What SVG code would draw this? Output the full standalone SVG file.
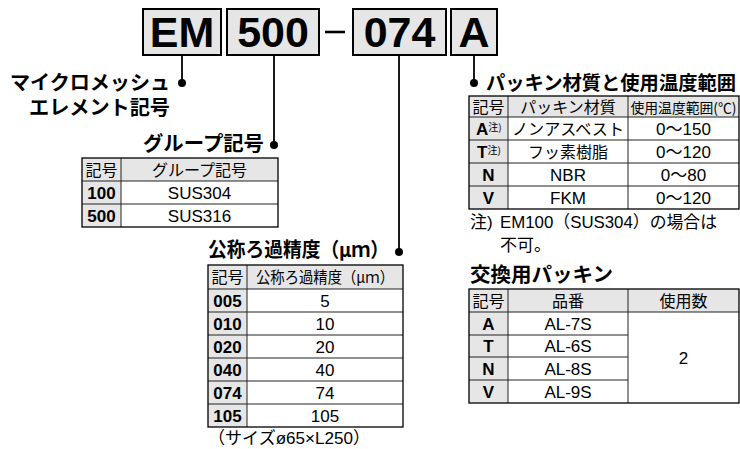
<svg xmlns="http://www.w3.org/2000/svg" width="740" height="449" viewBox="0 0 740 449">
<style>
text{font-family:'Liberation Sans','Noto Sans CJK JP',sans-serif;fill:#000}
.code{font-size:43px;font-weight:bold;text-anchor:middle}
.cbox{fill:#e6e6e6;stroke:#000;stroke-width:2}
.ttl{font-family:'Noto Sans CJK JP',sans-serif;font-size:20px;font-weight:bold}
.tj{font-family:'Noto Sans CJK JP',sans-serif;font-size:16px;text-anchor:middle}
.tl{font-size:17px;text-anchor:middle}
.tb{font-size:17px;font-weight:bold;text-anchor:middle}
.tbs{font-size:17px;font-weight:bold;text-anchor:start}
.note{font-size:17px}
.sup{font-family:'Noto Sans CJK JP',sans-serif;font-size:10px;font-weight:normal}
.hd{fill:#e6e6e6}
.grid{fill:none;stroke:#222;stroke-width:1}
.outer{fill:none;stroke:#000;stroke-width:1.3}
.conn{stroke:#000;stroke-width:1.8;fill:none}
.dot{fill:#000}
</style>

<g id="code-EM">
<rect class="cbox" x="143" y="9" width="78" height="46"/>
<text class="code" x="182" y="47">EM</text>
</g>
<g id="code-500">
<rect class="cbox" x="227" y="9" width="92" height="46"/>
<text class="code" x="273" y="47">500</text>
</g>
<g id="dash">
<line x1="325" y1="32" x2="345" y2="32" stroke="#000" stroke-width="2.6"/>
</g>
<g id="code-074">
<rect class="cbox" x="353" y="9" width="93" height="46"/>
<text class="code" x="399.5" y="47">074</text>
</g>
<g id="code-A">
<rect class="cbox" x="451" y="9" width="46" height="46"/>
<text class="code" x="474" y="47">A</text>
</g>

<g id="connectors">
<path class="conn" d="M182,55V83"/>
<circle class="dot" cx="182" cy="83" r="4"/>
<path class="conn" d="M274,55V145"/>
<circle class="dot" cx="274" cy="145" r="4"/>
<path class="conn" d="M399,55V252"/>
<circle class="dot" cx="399" cy="252" r="4"/>
<path class="conn" d="M474,55V83"/>
<circle class="dot" cx="474" cy="83" r="4"/>
</g>

<g id="label-element">
<text class="ttl" x="10" y="90" textLength="160" lengthAdjust="spacingAndGlyphs">マイクロメッシュ</text>
<text class="ttl" x="29" y="115" textLength="141" lengthAdjust="spacingAndGlyphs">エレメント記号</text>
</g>

<g id="group-table">
<text class="ttl" x="143" y="151" textLength="121" lengthAdjust="spacingAndGlyphs">グループ記号</text>
<rect class="hd" x="82" y="158" width="196" height="23"/>
<rect class="hd" x="82" y="181" width="39" height="46"/>
<path class="grid" d="M82,181H278M82,204H278M121,158V227"/>
<rect class="outer" x="82" y="158" width="196" height="69"/>
<text class="tj" x="101.5" y="175.5">記号</text>
<text class="tj" x="199.5" y="175.5">グループ記号</text>
<text class="tb" x="101.5" y="198.5">100</text>
<text class="tl" x="199.5" y="198.5">SUS304</text>
<text class="tb" x="101.5" y="221.5">500</text>
<text class="tl" x="199.5" y="221.5">SUS316</text>
</g>

<g id="filter-table">
<text class="ttl" x="208" y="257" textLength="181" lengthAdjust="spacingAndGlyphs">公称ろ過精度（μｍ）</text>
<rect class="hd" x="208" y="265" width="195" height="24"/>
<rect class="hd" x="208" y="289" width="39" height="138"/>
<path class="grid" d="M208,289H403M208,312H403M208,335H403M208,358H403M208,381H403M208,404H403M247,265V427"/>
<rect class="outer" x="208" y="265" width="195" height="162"/>
<text class="tj" x="227.5" y="283">記号</text>
<text class="tj" x="325" y="283" textLength="138" lengthAdjust="spacingAndGlyphs">公称ろ過精度（μｍ）</text>
<text class="tb" x="227.5" y="306.5">005</text>
<text class="tl" x="325" y="306.5">5</text>
<text class="tb" x="227.5" y="329.5">010</text>
<text class="tl" x="325" y="329.5">10</text>
<text class="tb" x="227.5" y="352.5">020</text>
<text class="tl" x="325" y="352.5">20</text>
<text class="tb" x="227.5" y="375.5">040</text>
<text class="tl" x="325" y="375.5">40</text>
<text class="tb" x="227.5" y="398.5">074</text>
<text class="tl" x="325" y="398.5">74</text>
<text class="tb" x="227.5" y="421.5">105</text>
<text class="tl" x="325" y="421.5">105</text>
<text class="note" x="208" y="444" textLength="162" lengthAdjust="spacingAndGlyphs">（サイズø65×L250）</text>
</g>

<g id="packing-table">
<text class="ttl" x="486" y="89.5" textLength="250" lengthAdjust="spacingAndGlyphs" style="font-size:19.5px">パッキン材質と使用温度範囲</text>
<rect class="hd" x="469" y="96" width="270" height="21"/>
<rect class="hd" x="469" y="117" width="39" height="92"/>
<path class="grid" d="M469,117H739M469,140H739M469,163H739M469,186H739M508,96V209M628,96V209"/>
<rect class="outer" x="469" y="96" width="270" height="113"/>
<text class="tj" x="488.5" y="113">記号</text>
<text class="tj" x="568" y="113">パッキン材質</text>
<text class="tj" x="683.5" y="112.5" style="font-size:14px" textLength="106" lengthAdjust="spacingAndGlyphs">使用温度範囲(℃)</text>
<text class="tbs" x="476" y="134.5">A<tspan class="sup" dy="-4">注)</tspan></text>
<text class="tj" x="568" y="134.5" textLength="112" lengthAdjust="spacingAndGlyphs">ノンアスベスト</text>
<text class="tl" x="683.5" y="134.5">0〜150</text>
<text class="tbs" x="477" y="157.5">T<tspan class="sup" dy="-4">注)</tspan></text>
<text class="tj" x="568" y="157.5">フッ素樹脂</text>
<text class="tl" x="683.5" y="157.5">0〜120</text>
<text class="tb" x="488.5" y="180.5">N</text>
<text class="tl" x="568" y="180.5">NBR</text>
<text class="tl" x="683.5" y="180.5">0〜80</text>
<text class="tb" x="488.5" y="203.5">V</text>
<text class="tl" x="568" y="203.5">FKM</text>
<text class="tl" x="683.5" y="203.5">0〜120</text>
<text class="note" x="470" y="228">注)</text>
<text class="note" x="500" y="228" textLength="217" lengthAdjust="spacingAndGlyphs">EM100（SUS304）の場合は</text>
<text class="note" x="500" y="251">不可。</text>
</g>

<g id="spare-table">
<text class="ttl" x="470" y="282" textLength="143" lengthAdjust="spacingAndGlyphs">交換用パッキン</text>
<rect class="hd" x="469" y="289" width="270" height="23"/>
<rect class="hd" x="469" y="312" width="39" height="91"/>
<path class="grid" d="M469,312H739M469,335H628M469,357H628M469,380H628M508,289V403M628,289V403"/>
<rect class="outer" x="469" y="289" width="270" height="114"/>
<text class="tj" x="488.5" y="306.5">記号</text>
<text class="tj" x="568" y="306.5">品番</text>
<text class="tj" x="683.5" y="306.5">使用数</text>
<text class="tb" x="488.5" y="329.5">A</text>
<text class="tl" x="568" y="329.5">AL-7S</text>
<text class="tb" x="488.5" y="352">T</text>
<text class="tl" x="568" y="352">AL-6S</text>
<text class="tb" x="488.5" y="374.5">N</text>
<text class="tl" x="568" y="374.5">AL-8S</text>
<text class="tb" x="488.5" y="397.5">V</text>
<text class="tl" x="568" y="397.5">AL-9S</text>
<text class="tl" x="683.5" y="363.5">2</text>
</g>
</svg>
